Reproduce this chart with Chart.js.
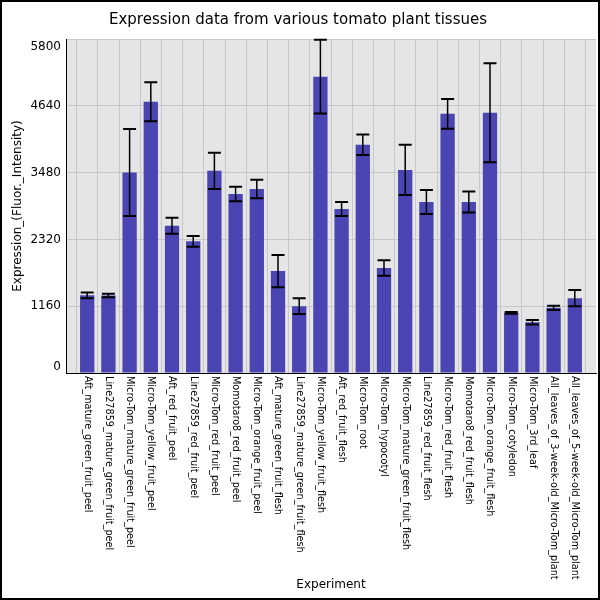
<!DOCTYPE html>
<html>
<head>
<meta charset="utf-8">
<title>Expression data from various tomato plant tissues</title>
<script src="https://cdn.jsdelivr.net/npm/chart.js@4.4.1/dist/chart.umd.min.js"></script>
<style>
  html, body { margin: 0; padding: 0; background: #ffffff; }
  #chart { display: block; }
</style>
</head>
<body>
<canvas id="chart" width="600" height="600"></canvas>
<script>
  // experiments (x categories)
  var categories = [
    'Aft_mature_green_fruit_peel',
    'Line27859_mature_green_fruit_peel',
    'Micro-Tom_mature_green_fruit_peel',
    'Micro-Tom_yellow_fruit_peel',
    'Aft_red_fruit_peel',
    'Line27859_red_fruit_peel',
    'Micro-Tom_red_fruit_peel',
    'Momotaro8_red_fruit_peel',
    'Micro-Tom_orange_fruit_peel',
    'Aft_mature_green_fruit_flesh',
    'Line27859_mature_green_fruit_flesh',
    'Micro-Tom_yellow_fruit_flesh',
    'Aft_red_fruit_flesh',
    'Micro-Tom_root',
    'Micro-Tom_hypocotyl',
    'Micro-Tom_mature_green_fruit_flesh',
    'Line27859_red_fruit_flesh',
    'Micro-Tom_red_fruit_flesh',
    'Momotaro8_red_fruit_flesh',
    'Micro-Tom_orange_fruit_flesh',
    'Micro-Tom_cotyledon',
    'Micro-Tom_3rd_leaf',
    'All_leaves_of_3-week-old_Micro-Tom_plant',
    'All_leaves_of_5-week-old_Micro-Tom_plant'
  ];

  // mean expression values
  var expression = [1350, 1345, 3480, 4710, 2558, 2286, 3510, 3109, 3196, 1770, 1160, 5145,
                    2848, 3962, 1822, 3527, 2970, 4501, 2970, 4519, 1044, 882, 1131, 1300];

  // error (+/-) for each bar
  var errors = [50, 30, 755, 340, 140, 95, 315, 125, 160, 280, 137, 640,
                120, 178, 135, 435, 209, 258, 183, 861, 17, 38, 35, 142];

  var yTicks = [0, 1160, 2320, 3480, 4640, 5800];

  var chartTitle = 'Expression data from various tomato plant tissues';
  var xTitle = 'Experiment';
  var yTitle = 'Expression_(Fluor._Intensity)';

  var FONT = "'DejaVu Sans', sans-serif";

  // empty slot at each end so the axis runs half a bar further out
  var labels = [''].concat(categories).concat(['']);
  var values = [null].concat(expression).concat([null]);

  var extrasPlugin = {
    id: 'extras',
    beforeDraw: function(chart) {
      var ctx = chart.ctx, a = chart.chartArea;
      ctx.save();
      ctx.fillStyle = '#e5e5e5';
      ctx.fillRect(a.left, a.top, a.right - a.left, a.bottom - a.top);
      ctx.restore();
    },
    afterDatasetsDraw: function(chart) {
      var ctx = chart.ctx;
      var xs = chart.scales.x, ys = chart.scales.y;
      ctx.save();
      ctx.strokeStyle = '#000000';
      for (var i = 0; i < expression.length; i++) {
        var x = xs.getPixelForValue(i + 1);
        var yTop = ys.getPixelForValue(expression[i] + errors[i]);
        var yBot = ys.getPixelForValue(expression[i] - errors[i]);
        ctx.lineWidth = 1.5;
        ctx.beginPath();
        ctx.moveTo(x, yTop);
        ctx.lineTo(x, yBot);
        ctx.stroke();
        ctx.lineWidth = 2;
        ctx.beginPath();
        ctx.moveTo(x - 6.5, yTop);
        ctx.lineTo(x + 6.5, yTop);
        ctx.moveTo(x - 6.5, yBot);
        ctx.lineTo(x + 6.5, yBot);
        ctx.stroke();
      }
      ctx.restore();
    },
    afterDraw: function(chart) {
      var ctx = chart.ctx, a = chart.chartArea;
      var xs = chart.scales.x, ys = chart.scales.y;
      ctx.save();
      ctx.fillStyle = '#000000';

      // y tick labels (end ones pulled inside the plot height)
      ctx.font = '12px ' + FONT;
      ctx.textAlign = 'right';
      ctx.textBaseline = 'middle';
      yTicks.forEach(function(v) {
        var y = ys.getPixelForValue(v);
        y = Math.max(a.top + 8, Math.min(a.bottom - 6, y));
        ctx.fillText(String(v), a.left - 5, y);
      });

      // x tick labels, turned clockwise
      ctx.font = '9.7px ' + FONT;
      ctx.textAlign = 'left';
      ctx.textBaseline = 'middle';
      categories.forEach(function(c, i) {
        var x = xs.getPixelForValue(i + 1);
        ctx.save();
        ctx.translate(x, a.bottom + 3);
        ctx.rotate(Math.PI / 2);
        ctx.fillText(c, 0, 0);
        ctx.restore();
      });

      // axis titles
      ctx.font = '12px ' + FONT;
      ctx.textAlign = 'center';
      ctx.fillText(xTitle, (a.left + a.right) / 2, 585);
      ctx.save();
      ctx.translate(18, (a.top + a.bottom) / 2);
      ctx.rotate(-Math.PI / 2);
      ctx.fillText(yTitle, 0, 0);
      ctx.restore();

      // frame round the picture
      ctx.strokeStyle = '#000000';
      ctx.lineWidth = 2;
      ctx.strokeRect(1, 1, chart.width - 2, chart.height - 2);
      ctx.restore();
    }
  };

  var ctx = document.getElementById('chart').getContext('2d');
  var myChart = new Chart(ctx, {
    type: 'bar',
    data: {
      labels: labels,
      datasets: [{
        data: values,
        backgroundColor: '#4a45b2',
        borderWidth: 0,
        categoryPercentage: 1,
        barPercentage: 0.675
      }]
    },
    options: {
      responsive: false,
      animation: false,
      layout: { padding: { left: 0, right: 4, top: 0, bottom: 0 } },
      plugins: {
        legend: { display: false },
        tooltip: { enabled: false },
        title: {
          display: true,
          text: chartTitle,
          color: '#000000',
          font: { family: FONT, size: 15, weight: 'normal' },
          padding: { top: 11, bottom: 10 }
        }
      },
      scales: {
        x: {
          type: 'category',
          offset: false,
          grid: { color: '#c8c8c8', lineWidth: 1, drawTicks: false },
          border: { display: true, color: '#000000', width: 1 },
          ticks: { display: false },
          afterFit: function(scale) { scale.height = 227; }
        },
        y: {
          min: 0,
          max: 5800,
          grid: { color: '#c8c8c8', lineWidth: 1, drawTicks: false },
          border: { display: true, color: '#000000', width: 1 },
          ticks: { display: false, stepSize: 1160 },
          afterFit: function(scale) { scale.width = 66; }
        }
      }
    },
    plugins: [extrasPlugin]
  });
</script>
</body>
</html>
